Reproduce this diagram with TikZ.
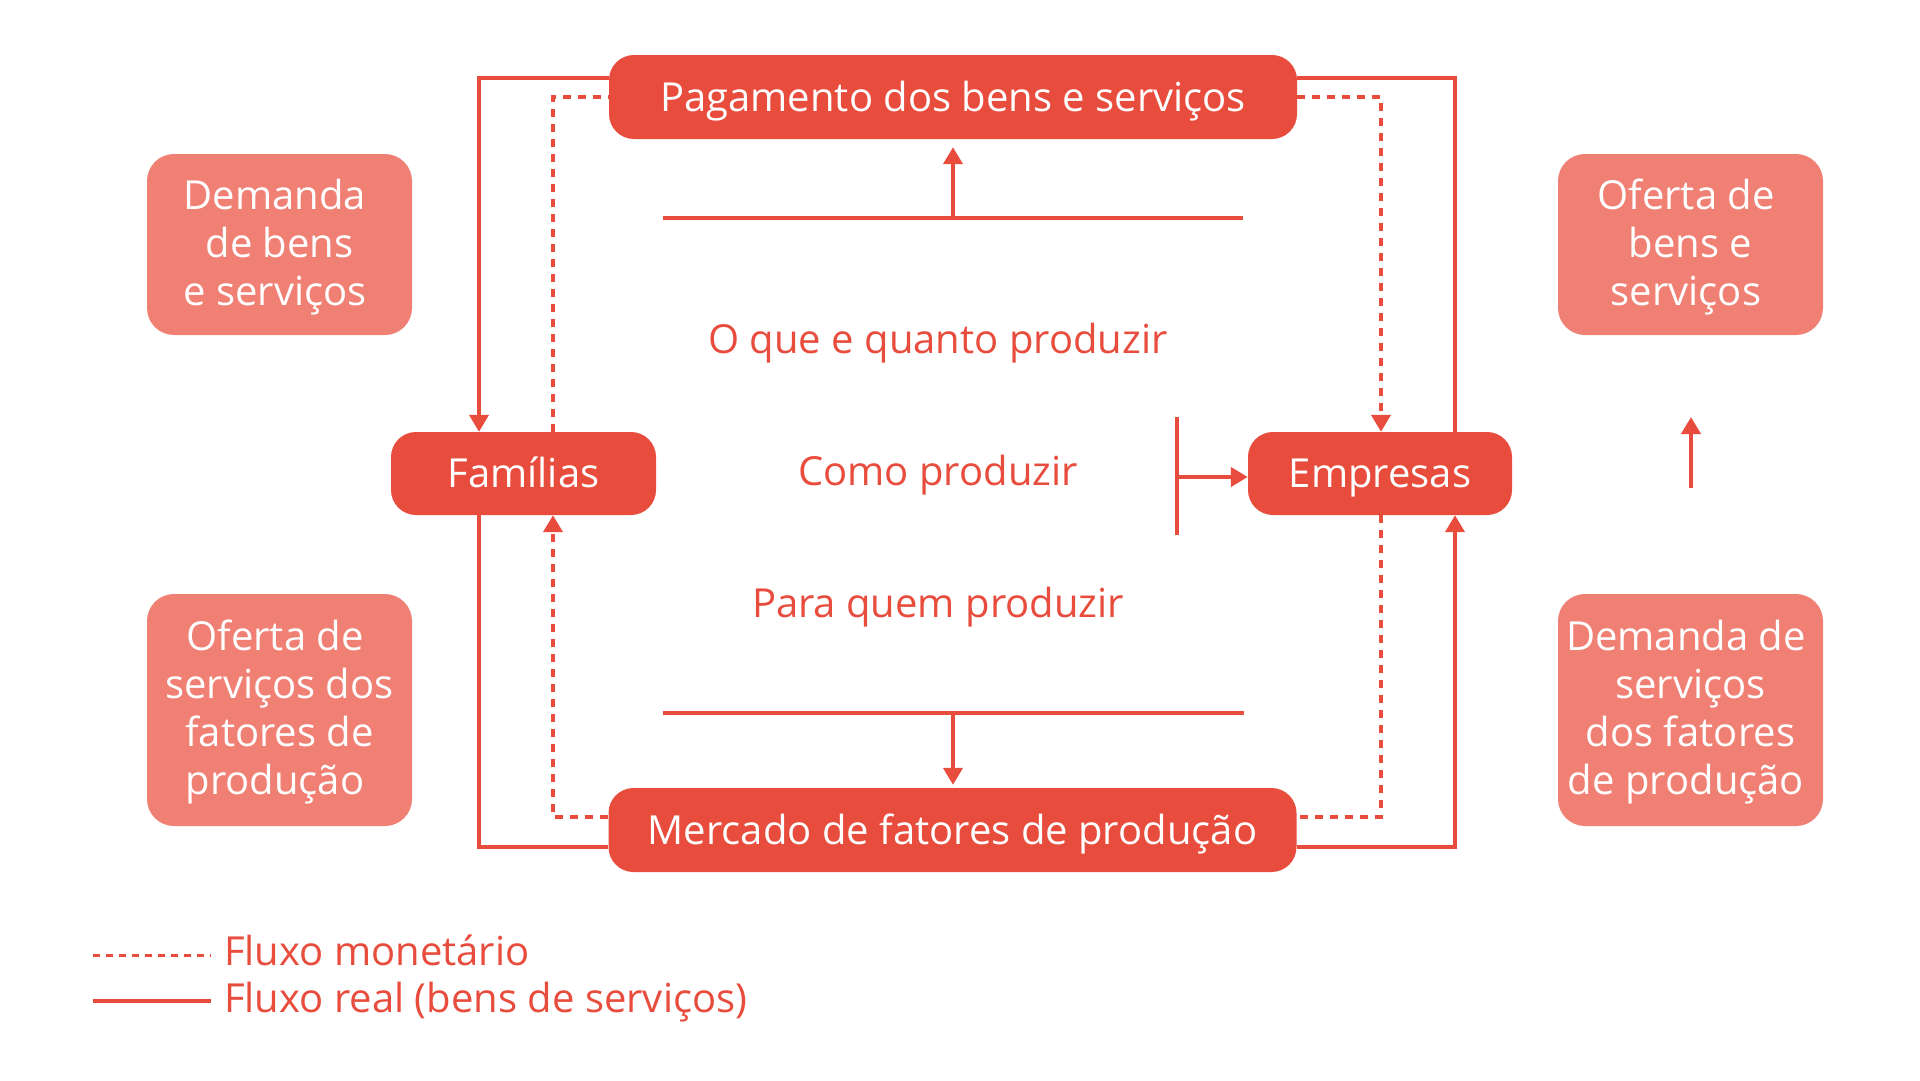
\documentclass[tikz,border=0pt]{standalone}
\usepackage{fontspec}
\setmainfont{Open Sans}
\usetikzlibrary{arrows.meta}
\definecolor{mainred}{HTML}{E84C3D}
\definecolor{lightred}{HTML}{F08074}
\newcommand{\padR}{\hspace*{9pt}}
\newcommand{\sbxstrut}{\rule{0pt}{35pt}}
\begin{document}
\begin{tikzpicture}[x=1pt,y=-1pt,
  mainbox/.style={fill=mainred, text=white, rounded corners=25pt, minimum height=84pt, inner sep=0pt, font=\fontsize{40}{48}\selectfont, text height=28.5pt, text depth=0pt},
  sidebox/.style={fill=lightred, text=white, rounded corners=27pt, minimum width=265pt, inner sep=0pt, align=center, font=\fontsize{40}{48}\selectfont},
  real/.style={draw=mainred, line width=4pt},
  money/.style={draw=mainred, line width=4pt, dash pattern=on 8pt off 7pt},
  tip/.style={-{Triangle[length=17pt,width=19pt]}},
  question/.style={text=mainred, font=\fontsize{40}{48}\selectfont, anchor=base, inner sep=0pt},
  legtext/.style={text=mainred, font=\fontsize{40}{48}\selectfont, anchor=base west, inner sep=0pt},
]
\useasboundingbox (0,0) rectangle (1920,1080);
\fill[white] (0,0) rectangle (1920,1080);

% main nodes
\node[mainbox, minimum width=688pt] (pag) at (953,97) {Pagamento dos bens e serviços};
\node[mainbox, minimum width=265pt, minimum height=83pt] (fam) at (523.5,473.5) {Famílias};
\node[mainbox, minimum width=264pt, minimum height=83pt] (emp) at (1380,473.5) {Empresas};
\node[mainbox, minimum width=688pt] (mer) at (952.5,830) {Mercado de fatores de produção};

% side boxes
\node[sidebox, minimum height=181pt] (dbs) at (279.5,244.5) {\sbxstrut Demanda\padR\\de bens\padR\\e serviços\padR};
\node[sidebox, minimum height=232pt] (osf) at (279.5,710) {\sbxstrut Oferta de\padR\\serviços dos\padR\\fatores de\padR\\produção\padR};
\node[sidebox, minimum height=181pt] (obs) at (1690.5,244.5) {\sbxstrut Oferta de\padR\\bens e\padR\\serviços\padR};
\node[sidebox, minimum height=232pt] (dsf) at (1690.5,710) {\sbxstrut Demanda de\padR\\serviços\padR\\dos fatores\padR\\de produção\padR};

% questions
\node[question] (q1) at (938,353) {O que e quanto produzir};
\node[question] (q2) at (938,485) {Como produzir};
\node[question] (q3) at (938,617) {Para quem produzir};

% helper coordinates
\coordinate (xLs) at (479,0);
\coordinate (xLd) at (553,0);
\coordinate (xRd) at (1381,0);
\coordinate (xRs) at (1455,0);
\coordinate (yTs) at (0,78);
\coordinate (yTd) at (0,97);
\coordinate (yBd) at (0,817);
\coordinate (yBs) at (0,847);

% outer loops
\draw[real,tip] (pag.west |- yTs) -| (xLs |- fam.north);
\draw[money] (xLd |- fam.north) |- (pag.west |- yTd);
\draw[money,tip] (pag.east |- yTd) -| (xRd |- emp.north);
\draw[real] (xRs |- emp.north) |- (pag.east |- yTs);
\draw[real] (xLs |- fam.south) |- (mer.west |- yBs);
\draw[money,tip] (mer.west |- yBd) -| (xLd |- fam.south);
\draw[real,tip] (mer.east |- yBs) -| (xRs |- emp.south);
\draw[money] (xRd |- emp.south) |- (mer.east |- yBd);

% inner lines
\coordinate (tl) at (663,218);
\coordinate (tr) at (1243,218);
\coordinate (tm) at (953,218);
\draw[real] (tl) -- (tr);
\draw[real,tip,shorten >=8pt] (tm) -- (pag.south);
\coordinate (bl) at (663,713);
\coordinate (br) at (1244,713);
\coordinate (bm) at (953,713);
\draw[real] (bl) -- (br);
\draw[real,tip,shorten >=3pt] (bm) -- (bm |- mer.north);
\coordinate (bar1) at (1177,417);
\coordinate (bar2) at (1177,535);
\coordinate (barm) at (1177,477);
\draw[real] (bar1) -- (bar2);
\draw[real,tip] (barm) -- (barm -| emp.west);
\coordinate (ra1) at (1691,488);
\coordinate (ra2) at (1691,417);
\draw[real,tip] (ra1) -- (ra2);

% legend
\coordinate (l1a) at (93,955);
\coordinate (l1b) at (211,955);
\coordinate (l2a) at (93,1001);
\coordinate (l2b) at (211,1001);
\draw[mainred, line width=3pt, dash pattern=on 7pt off 6pt] (l1a) -- (l1b);
\draw[real] (l2a) -- (l2b);
\node[legtext] (lt1) at (224,965) {Fluxo monetário};
\node[legtext] (lt2) at (224,1012) {Fluxo real (bens de serviços)};
\end{tikzpicture}
\end{document}
